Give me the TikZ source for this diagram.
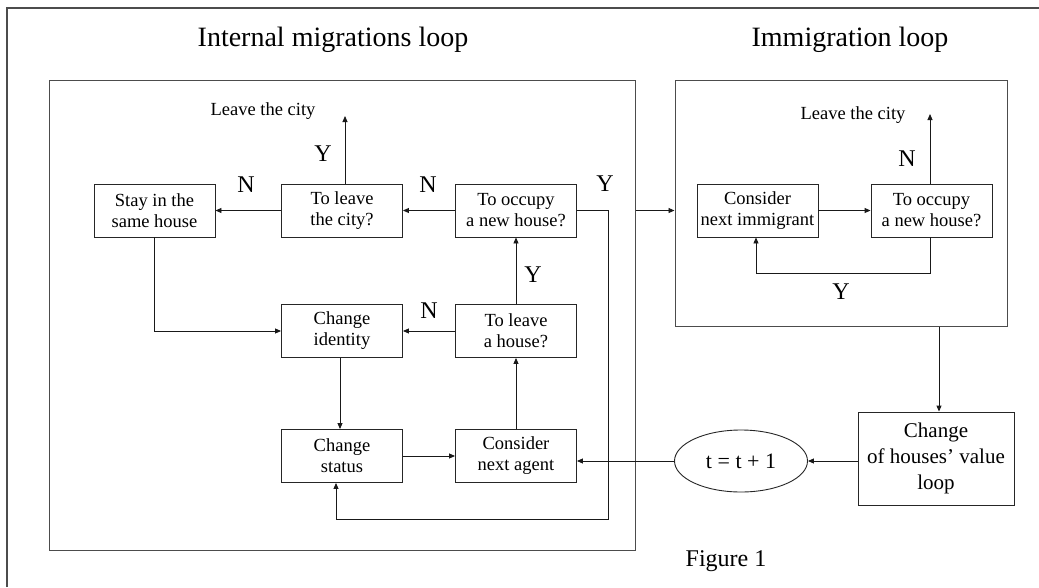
\documentclass[tikz,border=0pt]{standalone}
\usepackage{fontspec}
\setmainfont{Liberation Serif}
\usetikzlibrary{arrows.meta,shapes.geometric}
\begin{document}
\begin{tikzpicture}[x=1pt,y=-1pt,
  box/.style={draw=black!85, line width=0.9pt, minimum width=121pt, minimum height=53pt, inner sep=0pt, align=center, font=\fontsize{18.5}{21}\selectfont},
  frame/.style={draw=black!70, line width=1pt, inner sep=0pt},
  arr/.style={draw=black!90, line width=0.9pt, -{Triangle[length=6pt,width=5pt]}},
  lab/.style={font=\fontsize{24}{24}\selectfont, inner sep=0pt},
  small/.style={font=\fontsize{18.5}{18.5}\selectfont, inner sep=0pt},
  title/.style={font=\fontsize{28}{28}\selectfont, inner sep=0pt}]
\useasboundingbox (0,0) rectangle (1039,587);
\fill[white] (0,0) rectangle (1039,587);
% outer frame (only top and left visible)
\coordinate (fbl) at (7,587);
\coordinate (ftl) at (7,8);
\coordinate (ftr) at (1039,8);
\draw[black!70, line width=1.2pt] (fbl) -- (ftl) -- (ftr);
% titles
\node[title] (t1) at (333,40) {Internal migrations loop};
\node[title] (t2) at (850,40) {Immigration loop};
\node[lab] (fig) at (726,561) {Figure 1};
% containers
\node[frame, minimum width=586pt, minimum height=470pt] (intbox) at (342,315) {};
\node[frame, minimum width=332pt, minimum height=246pt] (immbox) at (841,203) {};
% internal boxes
\node[box] (stay) at (154.5,210.5) {Stay in the\\same house};
\node[box] (leavecity) at (342,210.5) {To leave\\the city?};
\node[box] (occupy) at (516,210.5) {To occupy\\a new house?};
\node[box] (identity) at (342,331) {Change\\identity};
\node[box] (leavehouse) at (516,331) {To leave\\a house?};
\node[box] (status) at (342,456) {Change\\status};
\node[box] (agent) at (516,456) {Consider\\next agent};
% immigration boxes
\node[box] (immigrant) at (757.5,210.5) {Consider\\next immigrant};
\node[box] (occupy2) at (931.5,210.5) {To occupy\\a new house?};
% change box and ellipse
\node[box, minimum width=156pt, minimum height=93pt, font=\fontsize{21}{26}\selectfont] (change) at (936,458.5) {Change\\of houses' value\\loop};
\node[draw=black!85, line width=0.9pt, ellipse, minimum width=133pt, minimum height=62pt, inner sep=0pt, font=\fontsize{22}{22}\selectfont] (ell) at (741,461) {t = t + 1};
% leave-the-city texts and coordinates
\node[small] (lc1) at (263,111) {Leave the city};
\node[small] (lc2) at (853,115) {Leave the city};
\coordinate (up1) at (345,116);
\coordinate (up2) at (930,114);
% internal connectors
\draw[arr] (occupy) -- (leavecity);
\draw[arr] (leavecity) -- (stay);
\draw[arr] (leavecity.north -| up1) -- (up1);
\draw[arr] (stay.south) |- (identity.west);
\draw[arr] (leavehouse) -- (identity);
\draw[arr] ([xshift=-2pt]identity.south) -- ([xshift=-2pt]status.north);
\draw[arr] (status) -- (agent);
\draw[arr] (agent) -- (leavehouse);
\draw[arr] (leavehouse) -- (occupy);
\coordinate (r1) at (608,210.5);
\coordinate (r2) at (608,519);
\coordinate (r3) at (336,519);
\draw[arr] (occupy.east) -- (r1) -- (r2) -- (r3) -- (r3 |- status.south);
% between loops
\draw[arr] (intbox.east |- occupy.east) -- (immbox.west |- occupy.east);
% immigration connectors
\draw[arr] (immigrant) -- (occupy2);
\draw[arr] (occupy2.north -| up2) -- (up2);
\coordinate (y1) at (930,273);
\coordinate (y2) at (756,273);
\draw[arr] (occupy2.south -| y1) -- (y1) -- (y2) -- (y2 |- immigrant.south);
\coordinate (dn) at (939,326);
\draw[arr] (immbox.south -| dn) -- (change.north -| dn);
\draw[arr] (change.west |- ell.east) -- (ell.east);
\draw[arr] (ell.west) -- (agent.east |- ell.west);
% Y/N labels
\node[lab] (l1) at (323,154) {Y};
\node[lab] (l2) at (246,185) {N};
\node[lab] (l3) at (428,185) {N};
\node[lab] (l4) at (605,184) {Y};
\node[lab] (l5) at (533,275) {Y};
\node[lab] (l6) at (429,311) {N};
\node[lab] (l7) at (907,159) {N};
\node[lab] (l8) at (841,292) {Y};
\end{tikzpicture}
\end{document}
